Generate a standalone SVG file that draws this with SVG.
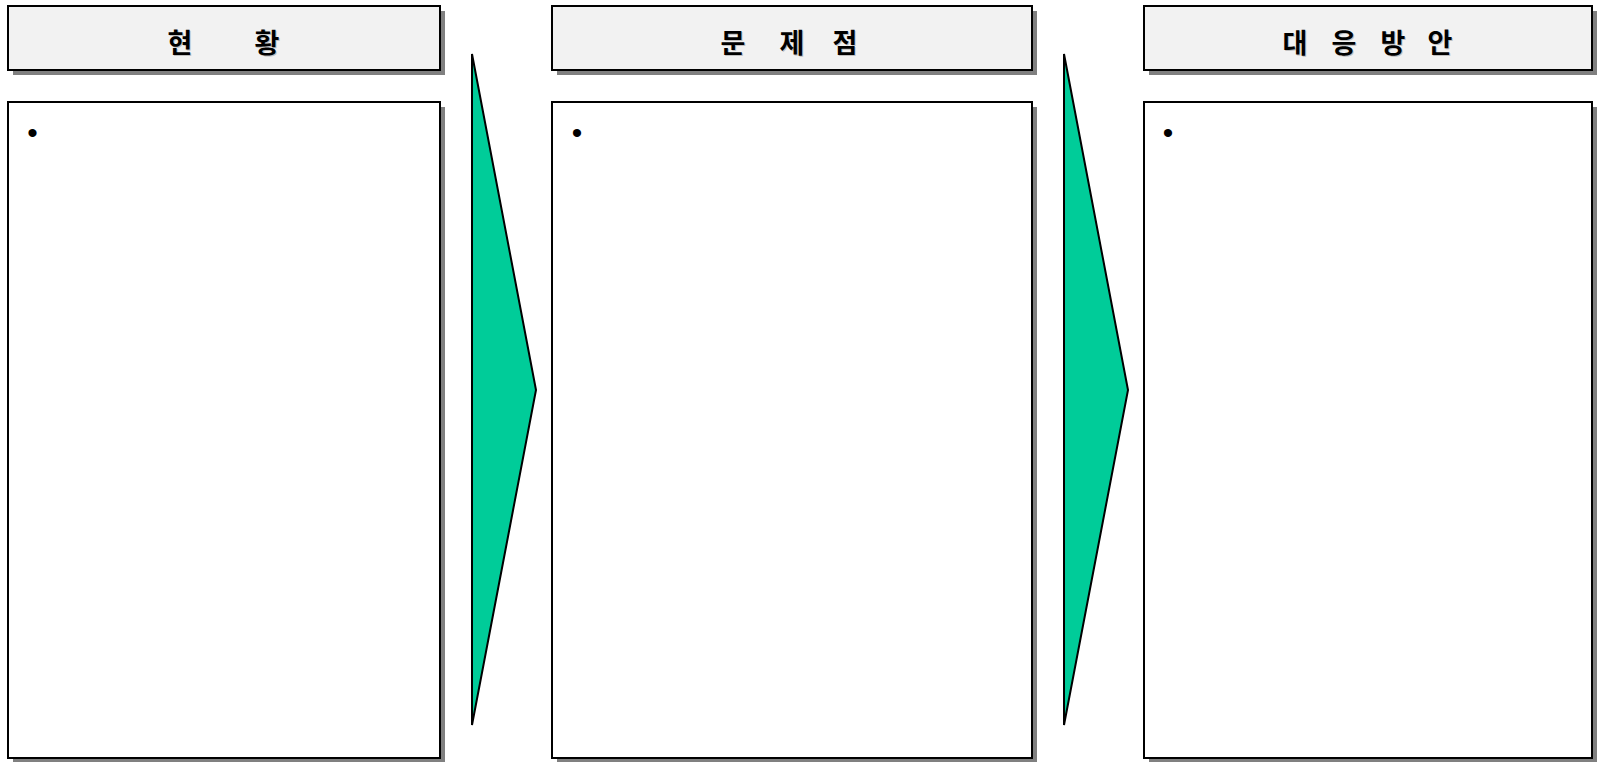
<svg xmlns="http://www.w3.org/2000/svg" width="1598" height="762" viewBox="0 0 1598 762">
<style>
.shadow{fill:#808080}
.head{fill:#f2f2f2;stroke:#000;stroke-width:2}
.body{fill:#fff;stroke:#000;stroke-width:2}
.ht{font-family:"Noto Sans CJK KR","Noto Sans",sans-serif;font-size:27px;font-weight:bold;fill:#000;text-anchor:middle;dominant-baseline:central}
.hts{fill:#c0c0c0}
.bul{font-family:"Liberation Sans",Arial,sans-serif;font-size:30px;fill:#000;text-anchor:middle}
.arrow{fill:#00cc99;stroke:#000;stroke-width:2;stroke-linejoin:miter}
</style>
<rect width="1598" height="762" fill="#fff"/>
<g id="head1">
<rect class="shadow" x="13" y="11" width="432" height="64"/>
<rect class="head" x="8" y="6" width="432" height="64"/>
<text class="ht hts" x="181 225 268" y="42" aria-hidden="true">현 황</text>
<text class="ht" x="180 224 267" y="41">현 황</text>
</g>
<g id="body1">
<rect class="shadow" x="13" y="107" width="432" height="656"/>
<rect class="body" x="8" y="102" width="432" height="656"/>
<text class="bul" x="32.5" y="142.5">•</text>
</g>
<g id="head2">
<rect class="shadow" x="557" y="11" width="480" height="64"/>
<rect class="head" x="552" y="6" width="480" height="64"/>
<text class="ht hts" x="734 764 793 820 846" y="42" aria-hidden="true">문 제 점</text>
<text class="ht" x="733 763 792 819 845" y="41">문 제 점</text>
</g>
<g id="body2">
<rect class="shadow" x="557" y="107" width="480" height="656"/>
<rect class="body" x="552" y="102" width="480" height="656"/>
<text class="bul" x="577" y="142.5">•</text>
</g>
<g id="head3">
<rect class="shadow" x="1149" y="11" width="448" height="64"/>
<rect class="head" x="1144" y="6" width="448" height="64"/>
<text class="ht hts" x="1296 1321 1345 1370 1394 1418 1441" y="42" aria-hidden="true">대 응 방 안</text>
<text class="ht" x="1295 1320 1344 1369 1393 1417 1440" y="41">대 응 방 안</text>
</g>
<g id="body3">
<rect class="shadow" x="1149" y="107" width="448" height="656"/>
<rect class="body" x="1144" y="102" width="448" height="656"/>
<text class="bul" x="1168" y="142.5">•</text>
</g>
<g id="connectors">
<polygon class="arrow" points="472,54 536,390 472,725"/>
<polygon class="arrow" points="1064,54 1128,390 1064,725"/>
</g>
</svg>
